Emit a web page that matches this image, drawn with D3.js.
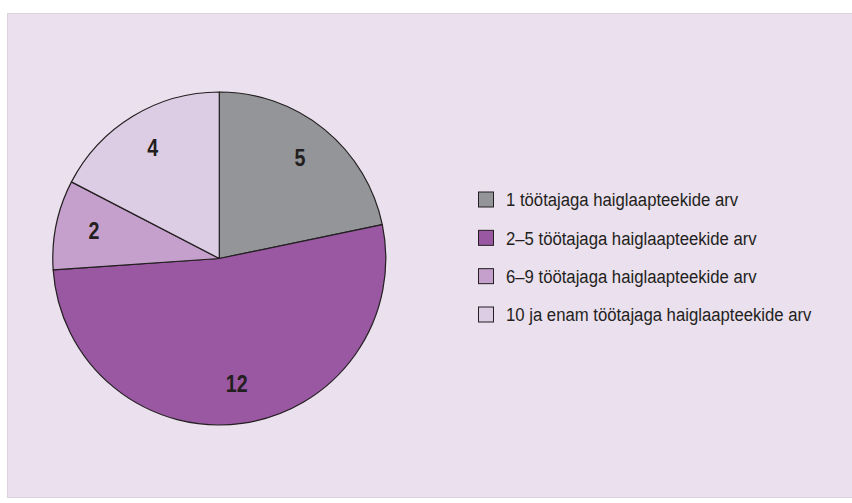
<!DOCTYPE html>
<html>
<head>
<meta charset="utf-8">
<script src="https://cdn.jsdelivr.net/npm/d3@7"></script>
<style>
  body { margin: 0; background: #ffffff; }
  svg text { font-family: "Liberation Sans", Arial, sans-serif; }
</style>
</head>
<body>
<div id="here"></div>
<script>
// pie data
const categories = [
    "1 töötajaga haiglaapteekide arv",
    "2–5 töötajaga haiglaapteekide arv",
    "6–9 töötajaga haiglaapteekide arv",
    "10 ja enam töötajaga haiglaapteekide arv"
];
const values = [5, 12, 2, 4];
const colors = ["#939598", "#9a58a3", "#c5a0cc", "#dccde4"];

const width = 852;
const height = 503;
const narrow = 0.82; // squeeze to look like Arial Narrow
const legendNarrow = 0.88;

const svg = d3
    .select("#here")
    .append("svg")
    .attr("width", width)
    .attr("height", height);

// panel background
svg.append("rect")
    .attr("x", 7.5)
    .attr("y", 13.5)
    .attr("width", width - 7)
    .attr("height", 484)
    .attr("fill", "#ebe0ee")
    .attr("stroke", "#dcd3de")
    .attr("stroke-width", 1);

const cx = 219.3, cy = 258.5, radius = 166.5;

const pie = d3.pie().sort(null).value(d => d.value);
const data = categories.map((c, i) => ({ name: c, value: values[i], color: colors[i] }));
const arcs = pie(data);

const arc = d3.arc().innerRadius(0).outerRadius(radius);
const labelArc = d3.arc().innerRadius(128).outerRadius(128);

const g = svg.append("g").attr("transform", `translate(${cx},${cy})`);

g.selectAll("path")
    .data(arcs)
    .enter()
    .append("path")
    .attr("d", arc)
    .attr("fill", d => d.data.color)
    .attr("stroke", "#231f20")
    .attr("stroke-width", 1.2)
    .attr("stroke-linejoin", "round");

g.selectAll("text.val")
    .data(arcs)
    .enter()
    .append("text")
    .attr("class", "val")
    .attr("transform", d => {
        const c = labelArc.centroid(d);
        return `translate(${c[0]},${c[1] - 2}) scale(${narrow},1)`;
    })
    .attr("text-anchor", "middle")
    .attr("dy", "0.36em")
    .attr("font-size", 24)
    .attr("font-weight", "bold")
    .attr("fill", "#231f20")
    .text(d => d.data.value);

// legend
const legendY = d3.scalePoint()
    .domain(categories)
    .range([199.5, 314.5]);

const legend = svg.append("g");

const item = legend.selectAll("g")
    .data(data)
    .enter()
    .append("g")
    .attr("transform", d => `translate(478.5, ${legendY(d.name)})`);

item.append("rect")
    .attr("x", 0)
    .attr("y", -7.5)
    .attr("width", 15)
    .attr("height", 15)
    .attr("fill", d => d.color)
    .attr("stroke", "#231f20")
    .attr("stroke-width", 1);

item.append("text")
    .attr("transform", `translate(27.5,0) scale(${legendNarrow},1)`)
    .attr("dy", "0.36em")
    .attr("font-size", 19)
    .attr("fill", "#231f20")
    .text(d => d.name);
</script>
</body>
</html>
